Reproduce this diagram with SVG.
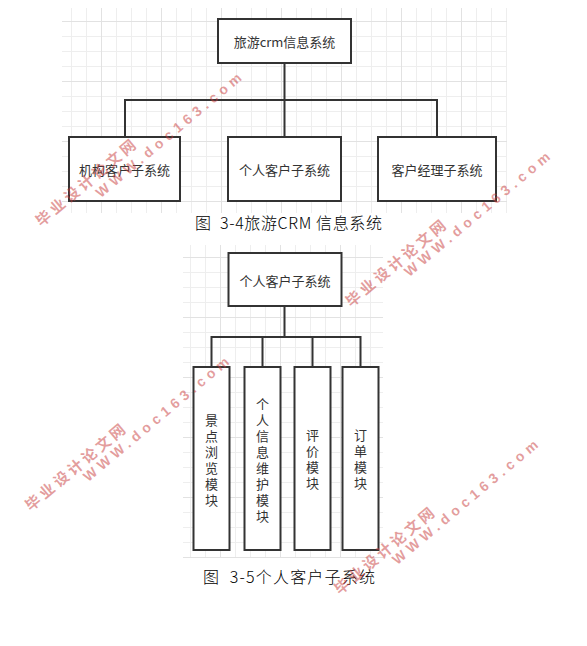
<svg xmlns="http://www.w3.org/2000/svg" width="587" height="646" viewBox="0 0 587 646">
<style>
.box{fill:#fff;stroke:#333;stroke-width:2}
.con{fill:none;stroke:#333;stroke-width:2}
.lbl{font-family:"Noto Sans CJK SC","Liberation Sans",sans-serif;font-size:13px;fill:#333;text-anchor:middle;dominant-baseline:central}
.cap{font-family:"Noto Sans CJK SC","Liberation Sans",sans-serif;font-size:16px;font-weight:300;fill:#000}
.wmh{font-family:"Noto Sans CJK SC",sans-serif;font-size:15px;font-weight:bold;fill:#c83c3c;fill-opacity:0.5;text-anchor:middle;dominant-baseline:central}
.wmu{font-family:"Liberation Sans",sans-serif;font-size:14px;font-weight:bold;fill:#c83c3c;fill-opacity:0.5;text-anchor:middle;dominant-baseline:central}
</style>
<defs>
<pattern id="gTmin" patternUnits="userSpaceOnUse" x="71" y="21" width="15" height="15"><path d="M0 0.5H15M0.5 0V15" stroke="#eeeeee" stroke-width="1" fill="none"/></pattern>
<pattern id="gTmaj" patternUnits="userSpaceOnUse" x="101" y="81" width="60" height="60"><path d="M0 0.5H60M0.5 0V60" stroke="#e2e2e2" stroke-width="1" fill="none"/></pattern>
<pattern id="gBmin" patternUnits="userSpaceOnUse" x="190" y="257" width="15" height="15"><path d="M0 0.5H15M0.5 0V15" stroke="#eeeeee" stroke-width="1" fill="none"/></pattern>
<pattern id="gBmaj" patternUnits="userSpaceOnUse" x="220" y="257" width="60" height="60"><path d="M0 0.5H60M0.5 0V60" stroke="#e2e2e2" stroke-width="1" fill="none"/></pattern>
</defs>
<rect width="587" height="646" fill="#fff"/>
<g id="grid">
<rect x="62" y="8" width="445" height="205" fill="url(#gTmin)"/>
<rect x="62" y="8" width="445" height="205" fill="url(#gTmaj)"/>
<rect x="183" y="245" width="200" height="313" fill="url(#gBmin)"/>
<rect x="183" y="245" width="200" height="313" fill="url(#gBmaj)"/>
</g>
<g id="connectors">
<path class="con" d="M284.5 63V100M125 137V100H437V137M284.5 100V137"/>
<path class="con" d="M284.5 306V337M211.5 367V337H360.5V367M262.5 337V367M312.5 337V367"/>
</g>
<g id="n-root"><rect class="box" x="218" y="19" width="133" height="44"/><text class="lbl" x="284.5" y="41.5">旅游crm信息系统</text></g>
<g id="n-org"><rect class="box" x="69" y="137" width="111" height="64"/><text class="lbl" x="124.5" y="169.5">机构客户子系统</text></g>
<g id="n-personal"><rect class="box" x="228" y="137" width="113" height="64"/><text class="lbl" x="284.5" y="169.5">个人客户子系统</text></g>
<g id="n-manager"><rect class="box" x="378" y="137" width="118" height="64"/><text class="lbl" x="437" y="169.5">客户经理子系统</text></g>
<text class="cap" x="195" y="229" xml:space="preserve" textLength="187" lengthAdjust="spacing">图  3-4旅游CRM 信息系统</text>
<g id="n-sub"><rect class="box" x="228.5" y="253" width="113" height="53"/><text class="lbl" x="285" y="280">个人客户子系统</text></g>
<g id="n-m1"><rect class="box" x="193.5" y="367" width="36" height="183"/>
<text class="lbl" x="211.5"><tspan x="211.5" y="419">景</tspan><tspan x="211.5" y="435">点</tspan><tspan x="211.5" y="451">浏</tspan><tspan x="211.5" y="467">览</tspan><tspan x="211.5" y="483">模</tspan><tspan x="211.5" y="499">块</tspan></text></g>
<g id="n-m2"><rect class="box" x="244.5" y="367" width="36" height="183"/>
<text class="lbl" x="262.5"><tspan x="262.5" y="403">个</tspan><tspan x="262.5" y="419">人</tspan><tspan x="262.5" y="435">信</tspan><tspan x="262.5" y="451">息</tspan><tspan x="262.5" y="467">维</tspan><tspan x="262.5" y="483">护</tspan><tspan x="262.5" y="499">模</tspan><tspan x="262.5" y="515">块</tspan></text></g>
<g id="n-m3"><rect class="box" x="294.5" y="367" width="36" height="183"/>
<text class="lbl" x="312.5"><tspan x="312.5" y="434">评</tspan><tspan x="312.5" y="450">价</tspan><tspan x="312.5" y="466">模</tspan><tspan x="312.5" y="482">块</tspan></text></g>
<g id="n-m4"><rect class="box" x="342.5" y="367" width="36" height="183"/>
<text class="lbl" x="360.5"><tspan x="360.5" y="434">订</tspan><tspan x="360.5" y="450">单</tspan><tspan x="360.5" y="466">模</tspan><tspan x="360.5" y="482">块</tspan></text></g>
<text class="cap" x="203" y="583" xml:space="preserve" textLength="172" lengthAdjust="spacing">图  3-5个人客户子系统</text>
<g id="watermarks">
<text class="wmh" transform="translate(85,182) rotate(-40)" textLength="125">毕业设计论文网</text>
<text class="wmu" transform="translate(168.5,135) rotate(-40)" textLength="185">WWW.doc163.com</text>
<text class="wmh" transform="translate(395,262.5) rotate(-40)" textLength="125">毕业设计论文网</text>
<text class="wmu" transform="translate(477,214) rotate(-40)" textLength="185">WWW.doc163.com</text>
<text class="wmh" transform="translate(74.5,466.5) rotate(-40)" textLength="125">毕业设计论文网</text>
<text class="wmu" transform="translate(156,419) rotate(-40)" textLength="185">WWW.doc163.com</text>
<text class="wmh" transform="translate(383.5,550) rotate(-40)" textLength="125">毕业设计论文网</text>
<text class="wmu" transform="translate(465,502) rotate(-40)" textLength="185">WWW.doc163.com</text>
</g>
</svg>
